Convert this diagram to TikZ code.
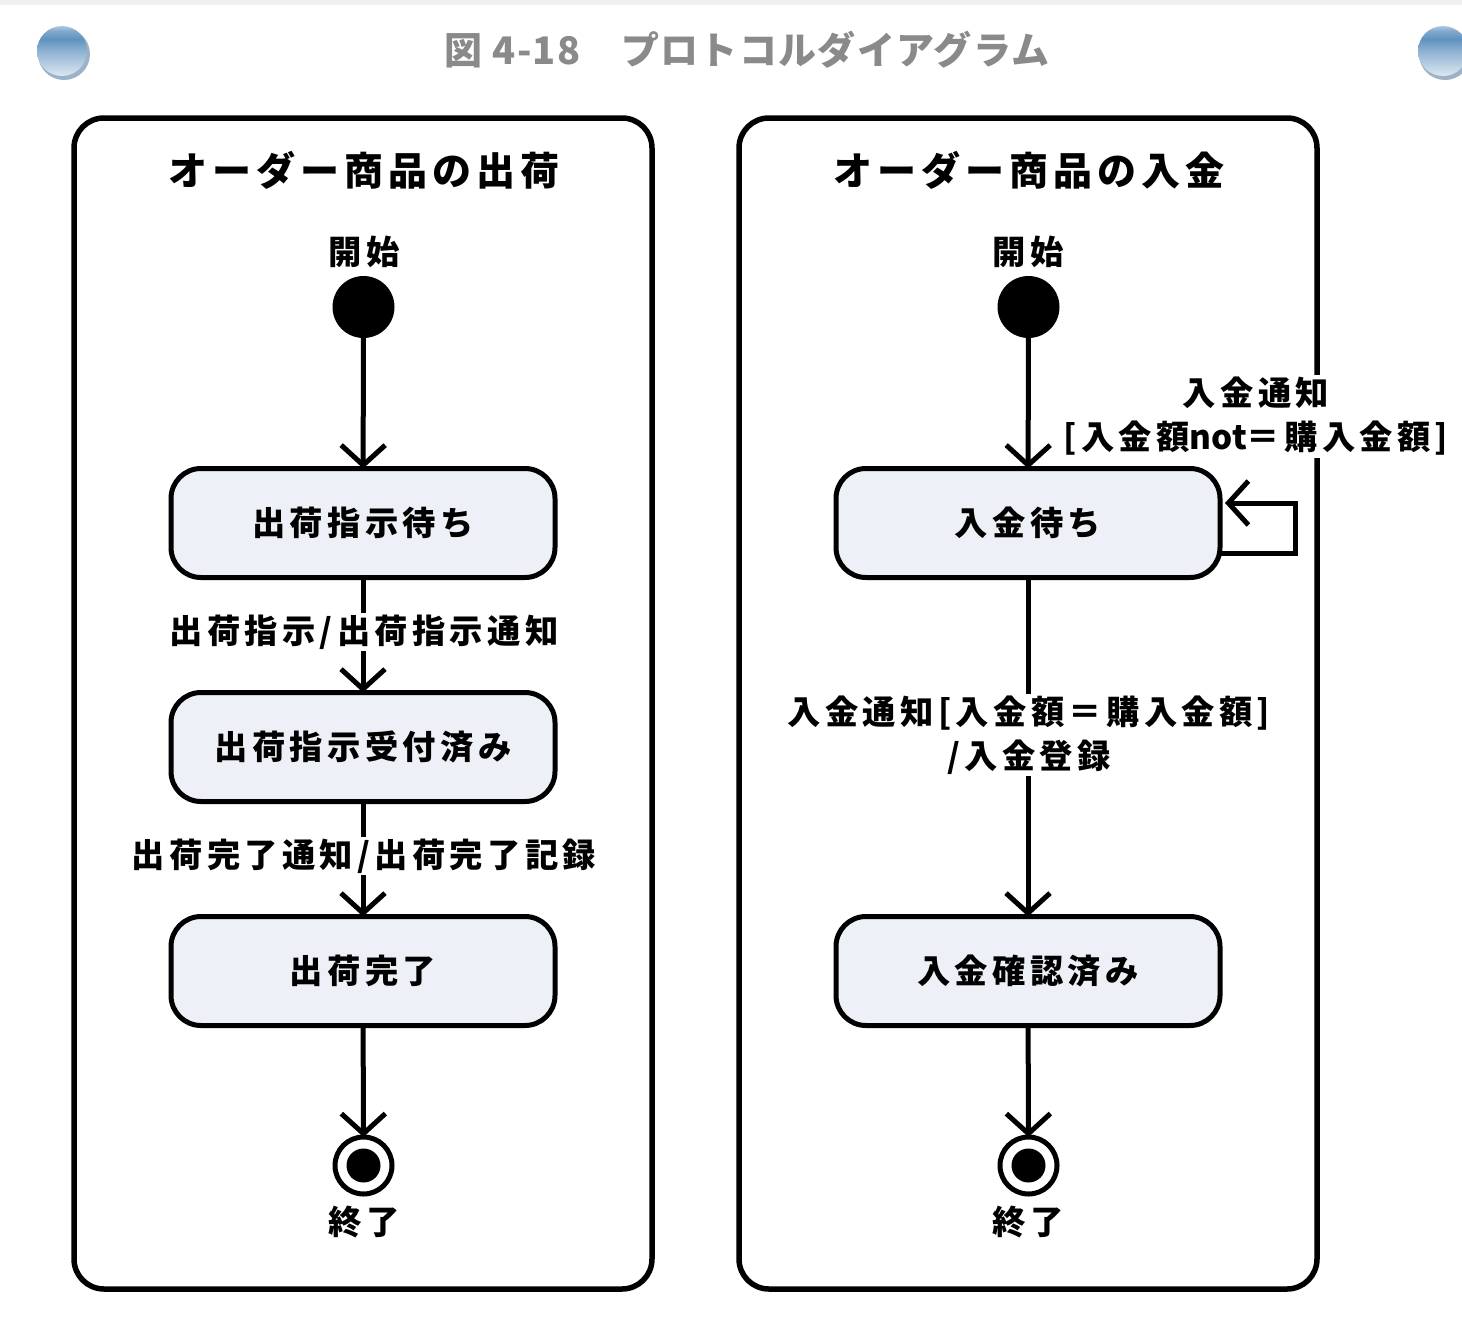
\documentclass[tikz,border=0pt]{standalone}
\usepackage{fontspec}
\setmainfont{Noto Sans CJK JP}[LetterSpace=13]
\newfontfamily\titlefont{Noto Sans CJK JP}[LetterSpace=3.5]
\newfontfamily\tightfont{Noto Sans CJK JP}[LetterSpace=0]
\usetikzlibrary{arrows.meta}
\definecolor{boxfill}{HTML}{EDF0F6}
\definecolor{titlegrey}{HTML}{8A8A8A}
\definecolor{ballhalo}{HTML}{9DB2C6}
\definecolor{ballA}{HTML}{DCE7F1}
\definecolor{ballB}{HTML}{C5D8E8}
\definecolor{ballC}{HTML}{8FB2D3}
\definecolor{ballD}{HTML}{5F93BF}
\definecolor{ballE}{HTML}{82A8CC}
\definecolor{ballF}{HTML}{AFC8DE}
\pgfdeclareverticalshading{ballshade}{100bp}{
  color(0bp)=(ballA);
  color(25bp)=(ballA);
  color(32bp)=(ballB);
  color(50bp)=(ballC);
  color(62bp)=(ballD);
  color(70bp)=(ballE);
  color(75bp)=(ballF);
  color(100bp)=(ballF)}
\tikzset{
  panel/.style={draw=black,line width=5.5pt,rounded corners=30pt,fill=white,minimum width=578pt,minimum height=1171pt,inner sep=0pt,outer sep=0pt},
  statebox/.style={draw=black,line width=5pt,rounded corners=30pt,fill=boxfill,minimum width=384pt,minimum height=109pt,inner sep=0pt,outer sep=0pt,font=\fontsize{33.3}{38}\selectfont\bfseries},
  startdot/.style={circle,fill=black,minimum size=62pt,inner sep=0pt,outer sep=0pt},
  enddot/.style={circle,draw=black,line width=5pt,fill=white,minimum size=57pt,inner sep=0pt,outer sep=0pt},
  endcore/.style={circle,fill=black,minimum size=34pt,inner sep=0pt,outer sep=0pt},
  paneltitle/.style={font=\fontsize{39}{44}\selectfont\bfseries,inner sep=0pt},
  plain/.style={font=\fontsize{33.3}{44}\selectfont\bfseries,inner sep=0pt},
  edgelabel/.style={font=\fontsize{33.3}{44}\selectfont\bfseries,fill=white,inner sep=2pt,align=center},
  conn/.style={line width=5pt,-{Straight Barb[length=20pt,width=44pt,line width=5pt]}},
  ball/.style={shading=ballshade},
}
\begin{document}
\begin{tikzpicture}[x=1pt,y=-1pt]
\useasboundingbox (0,0) rectangle (1462,1320);
\fill[white] (0,0) rectangle (1462,1320);
\fill[black!6] (0,0) rectangle (1462,5);
% decorative balls
\fill[ballhalo] (64,54) circle (26);
\shade[ball] (62,51) circle (25);
\fill[ballhalo] (1445,54) circle (26);
\shade[ball] (1443,51) circle (25);
\node[font=\titlefont\fontsize{38}{44}\selectfont\bfseries,text=titlegrey,inner sep=0pt] (title) at (747,50) {図 4-18　プロトコルダイアグラム};
% panels
\node[panel] (pl) at (363,703.5) {};
\node[panel] (pr) at (1028,703.5) {};
\node[paneltitle] (tl) at (364,170) {オーダー商品の出荷};
\node[paneltitle] (tr) at (1029,170) {オーダー商品の入金};
% left
\node[plain] (sl) at (364,252) {開始};
\node[startdot] (s1) at (363.5,307) {};
\node[statebox] (a1) at (363,523) {出荷指示待ち};
\node[statebox] (a2) at (363,747) {出荷指示受付済み};
\node[statebox] (a3) at (363,971) {出荷完了};
\node[enddot] (e1) at (363.5,1165.5) {};
\node[endcore] (c1) at (363.5,1165.5) {};
\node[plain] (el) at (364,1222.5) {終了};
\draw[conn] (s1) -- (a1);
\draw[conn] (a1) -- (a2);
\draw[conn] (a2) -- (a3);
\draw[conn] (a3) -- (e1);
\node[edgelabel] (l1) at (364,632) {出荷指示/出荷指示通知};
\node[edgelabel] (l2) at (364,856) {出荷完了通知/出荷完了記録};
% right
\node[plain] (sr) at (1028,252) {開始};
\node[startdot] (s2) at (1028.5,307) {};
\node[statebox] (b1) at (1028,523) {入金待ち};
\node[statebox] (b2) at (1028,971) {入金確認済み};
\node[enddot] (e2) at (1028.5,1165.5) {};
\node[endcore] (c2) at (1028.5,1165.5) {};
\node[plain] (er) at (1028,1222.5) {終了};
\draw[conn] (s2) -- (b1);
\draw[conn] (b1) -- (b2);
\draw[conn] (b2) -- (e2);
\draw[conn,rounded corners=0pt] ([yshift=-30pt]b1.east) -| ([xshift=75pt,yshift=20pt]b1.east) -- ([xshift=5pt,yshift=20pt]b1.east);
\node[edgelabel] (l3) at (1029,735) {入金通知[入金額＝購入金額]\\/入金登録};
\node[edgelabel] (l4) at (1256,416.5) {入金通知\\{[入金額{\tightfont\bfseries not}＝購入金額]}};
\end{tikzpicture}
\end{document}
